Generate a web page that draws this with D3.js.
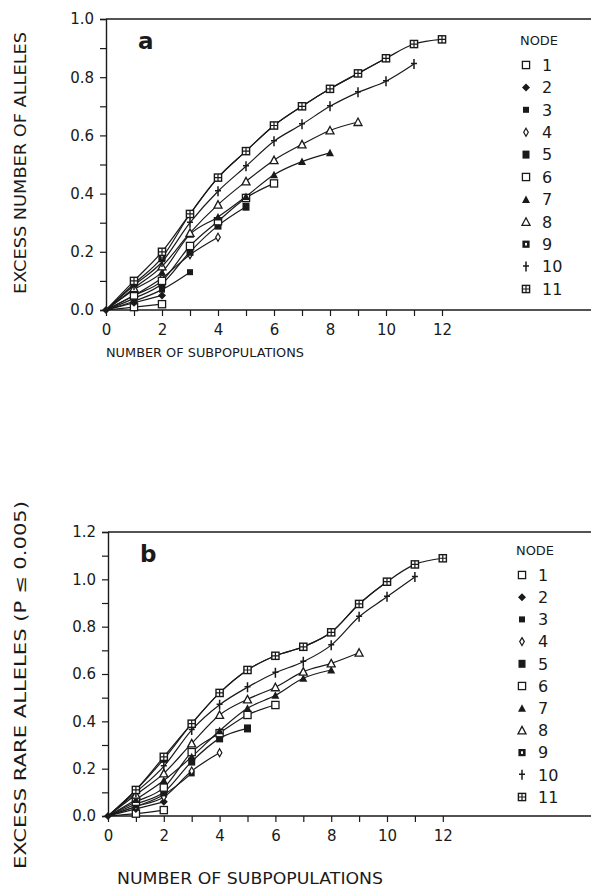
<!DOCTYPE html>
<html>
<head>
<meta charset="utf-8">
<script src="https://cdn.jsdelivr.net/npm/d3@7"></script>
<style>
  html, body { margin: 0; padding: 0; background: #fff; }
  svg { display: block; }
</style>
</head>
<body>
<div id="chart"></div>
<script>
// Noeuds de l'arbre et symbole utilisé pour chacun
const nodes = ["1", "2", "3", "4", "5", "6", "7", "8", "9", "10", "11"];
const markers = ["openSquare", "filledDiamond", "filledSquare", "smallDiamond", "bigSquare",
    "openSquare", "filledTriangle", "openTriangle", "dotSquare", "plus", "crossSquare"];

const xTicks = [0, 1, 2, 3, 4, 5, 6, 7, 8, 9, 10, 11, 12];

// a : excès du nombre d'allèles (x = 0, 1, 2 ... sous-populations)
const excessAlleles = [
    [0, 0.01, 0.02],
    [0, 0.025, 0.05],
    [0, 0.03, 0.07, 0.13],
    [0, 0.05, 0.11, 0.19, 0.25],
    [0, 0.04, 0.09, 0.20, 0.29, 0.355],
    [0, 0.05, 0.10, 0.22, 0.305, 0.385, 0.435],
    [0, 0.07, 0.13, 0.26, 0.32, 0.39, 0.465, 0.51, 0.54],
    [0, 0.075, 0.15, 0.265, 0.362, 0.442, 0.515, 0.569, 0.617, 0.646],
    [0, 0.09, 0.18, 0.33, 0.455, 0.546, 0.634, 0.70, 0.76, 0.813, 0.865],
    [0, 0.085, 0.165, 0.30, 0.408, 0.494, 0.58, 0.638, 0.70, 0.748, 0.786, 0.845],
    [0, 0.10, 0.20, 0.33, 0.455, 0.546, 0.634, 0.70, 0.76, 0.813, 0.865, 0.914, 0.93]
];

// b : excès d'allèles rares (P <= 0.005)
const rareAlleles = [
    [0, 0.01, 0.025],
    [0, 0.03, 0.06],
    [0, 0.04, 0.09, 0.18],
    [0, 0.04, 0.08, 0.19, 0.267],
    [0, 0.05, 0.10, 0.23, 0.328, 0.37],
    [0, 0.06, 0.12, 0.27, 0.35, 0.427, 0.469],
    [0, 0.07, 0.15, 0.25, 0.36, 0.455, 0.51, 0.582, 0.617],
    [0, 0.09, 0.18, 0.307, 0.427, 0.493, 0.544, 0.61, 0.645, 0.69],
    [0, 0.11, 0.24, 0.39, 0.52, 0.617, 0.677, 0.715, 0.776, 0.896, 0.99],
    [0, 0.10, 0.21, 0.363, 0.47, 0.544, 0.605, 0.652, 0.722, 0.842, 0.926, 1.01],
    [0, 0.11, 0.25, 0.39, 0.52, 0.617, 0.677, 0.715, 0.776, 0.896, 0.99, 1.063, 1.089]
];

const width = 591;
const height = 888;
const font = "'DejaVu Sans', 'Liberation Sans', sans-serif";
const ink = "#1a1a1a";

const svg = d3.select("#chart").append("svg")
    .attr("width", width)
    .attr("height", height)
    .attr("viewBox", [0, 0, width, height]);

function drawMarker(g, type, cx, cy) {
    const s = 3.6;
    const m = g.append("g").attr("transform", `translate(${cx},${cy})`);
    if (type === "openSquare") {
        m.append("rect").attr("x", -s).attr("y", -s).attr("width", 2 * s).attr("height", 2 * s)
            .attr("fill", "#fff").attr("stroke", ink).attr("stroke-width", 1.3);
    } else if (type === "filledSquare") {
        m.append("rect").attr("x", -3).attr("y", -3).attr("width", 6).attr("height", 6).attr("fill", ink);
    } else if (type === "bigSquare") {
        m.append("rect").attr("x", -3.5).attr("y", -4).attr("width", 7).attr("height", 8).attr("fill", ink);
    } else if (type === "filledDiamond") {
        m.append("path").attr("d", "M0,-4L4,0L0,4L-4,0Z").attr("fill", ink);
    } else if (type === "smallDiamond") {
        m.append("path").attr("d", "M0,-4L2.3,0L0,4L-2.3,0Z")
            .attr("fill", "#fff").attr("stroke", ink).attr("stroke-width", 1.2);
    } else if (type === "filledTriangle") {
        m.append("path").attr("d", "M0,-4L4,3.5L-4,3.5Z").attr("fill", ink);
    } else if (type === "openTriangle") {
        m.append("path").attr("d", "M0,-4L4,3.5L-4,3.5Z")
            .attr("fill", "#fff").attr("stroke", ink).attr("stroke-width", 1.3);
    } else if (type === "dotSquare") {
        m.append("rect").attr("x", -s).attr("y", -s).attr("width", 2 * s).attr("height", 2 * s).attr("fill", ink);
        m.append("rect").attr("x", -1).attr("y", -1.3).attr("width", 2).attr("height", 2.6).attr("fill", "#fff");
    } else if (type === "plus") {
        m.append("path").attr("d", "M0,-5V5M-3,-0.5H3")
            .attr("stroke", ink).attr("stroke-width", 1.5).attr("fill", "none");
    } else if (type === "crossSquare") {
        m.append("rect").attr("x", -s).attr("y", -s).attr("width", 2 * s).attr("height", 2 * s)
            .attr("fill", "#fff").attr("stroke", ink).attr("stroke-width", 1.4);
        m.append("path").attr("d", `M0,${-s}V${s}M${-s},0H${s}`)
            .attr("stroke", ink).attr("stroke-width", 1.2);
    }
}

function drawPanel(cfg) {
    const x = d3.scaleLinear().domain([0, 12]).range([cfg.left, cfg.left + cfg.unitX * 12]);
    const y = d3.scaleLinear().domain([0, cfg.yMax]).range([cfg.bottom, cfg.top]);
    const g = svg.append("g");

    // cadre : ligne du haut et axe du bas jusqu'au bord
    g.append("line").attr("x1", cfg.left).attr("x2", width)
        .attr("y1", cfg.top).attr("y2", cfg.top).attr("stroke", ink).attr("stroke-width", 1.4);
    g.append("line").attr("x1", cfg.left).attr("x2", width)
        .attr("y1", cfg.bottom).attr("y2", cfg.bottom).attr("stroke", ink).attr("stroke-width", 1.4);

    const yTicks = d3.range(0, Math.round(cfg.yMax * 10) + 1).map(d => d / 10);
    g.append("g")
        .attr("transform", `translate(${cfg.left},0)`)
        .call(d3.axisLeft(y).tickValues(yTicks).tickSize(6).tickPadding(6)
            .tickFormat(d => Math.round(d * 10) % 2 === 0 ? d3.format(".1f")(d) : ""))
        .call(g => g.select(".domain").attr("stroke", ink).attr("stroke-width", 1.4))
        .call(g => g.selectAll(".tick line").attr("stroke", ink).attr("stroke-width", 1.2))
        .call(g => g.selectAll(".tick text").attr("font-family", font).attr("font-size", 15)
            .attr("fill", ink));

    g.append("g")
        .attr("transform", `translate(0,${cfg.bottom})`)
        .call(d3.axisBottom(x).tickValues(xTicks).tickSize(6).tickPadding(8)
            .tickFormat(d => d % 2 === 0 ? d : ""))
        .call(g => g.select(".domain").remove())
        .call(g => g.selectAll(".tick line").attr("stroke", ink).attr("stroke-width", 1.2))
        .call(g => g.selectAll(".tick text").attr("font-family", font).attr("font-size", 15)
            .attr("fill", ink));

    const line = d3.line()
        .x((d, i) => x(i))
        .y(d => y(d))
        .curve(d3.curveMonotoneX);

    g.append("g").selectAll("path")
        .data(cfg.series)
        .join("path")
        .attr("fill", "none")
        .attr("stroke", ink)
        .attr("stroke-width", 1.2)
        .attr("d", d => line(d));

    const pts = g.append("g");
    cfg.series.forEach((values, k) => {
        values.forEach((v, i) => {
            if (i === 0) return;
            drawMarker(pts, markers[k], x(i), y(v));
        });
    });
    drawMarker(pts, "filledDiamond", x(0), y(0));

    // lettre du panneau
    g.append("text")
        .attr("x", cfg.left + 32)
        .attr("y", cfg.top + 30)
        .attr("font-family", font)
        .attr("font-weight", "bold")
        .attr("font-size", 23)
        .attr("fill", ink)
        .text(cfg.letter);

    // légende
    g.append("text")
        .attr("x", cfg.legendX - 3)
        .attr("y", cfg.legendY - 20)
        .attr("font-family", font)
        .attr("font-size", 13)
        .attr("textLength", 38)
        .attr("lengthAdjust", "spacingAndGlyphs")
        .attr("fill", ink)
        .text("NODE");

    nodes.forEach((n, k) => {
        const ly = cfg.legendY + k * cfg.legendStep;
        drawMarker(g, markers[k], cfg.legendX + 3, ly);
        g.append("text")
            .attr("x", cfg.legendX + 19)
            .attr("y", ly)
            .attr("dy", "0.36em")
            .attr("font-family", font)
            .attr("font-size", 16)
            .attr("fill", ink)
            .text(n);
    });

    g.append("text")
        .attr("x", cfg.xLabelX)
        .attr("y", cfg.xLabelY)
        .attr("font-family", font)
        .attr("font-size", cfg.xLabelSize)
        .attr("textLength", cfg.xLabelLen)
        .attr("lengthAdjust", "spacingAndGlyphs")
        .attr("fill", ink)
        .text("NUMBER OF SUBPOPULATIONS");

    g.append("text")
        .attr("transform", `translate(${cfg.yLabelX},${cfg.yLabelY}) rotate(-90)`)
        .attr("text-anchor", "middle")
        .attr("font-family", font)
        .attr("font-size", cfg.yLabelSize)
        .attr("textLength", cfg.yLabelLen)
        .attr("lengthAdjust", "spacingAndGlyphs")
        .attr("fill", ink)
        .text(cfg.yLabel);
}

drawPanel({
    series: excessAlleles, letter: "a", yMax: 1.0,
    left: 106, unitX: 28, top: 19, bottom: 310,
    legendX: 523, legendY: 65, legendStep: 22.4,
    xLabelX: 106, xLabelY: 357, xLabelSize: 13, xLabelLen: 198,
    yLabelX: 26, yLabelY: 163, yLabelSize: 16, yLabelLen: 262,
    yLabel: "EXCESS NUMBER OF ALLELES"
});

drawPanel({
    series: rareAlleles, letter: "b", yMax: 1.2,
    left: 108, unitX: 27.9, top: 532, bottom: 816,
    legendX: 519, legendY: 575, legendStep: 22.2,
    xLabelX: 117, xLabelY: 884, xLabelSize: 16, xLabelLen: 266,
    yLabelX: 26, yLabelY: 685, yLabelSize: 16, yLabelLen: 368,
    yLabel: "EXCESS RARE ALLELES  (P \u2264 0.005)"
});
</script>
</body>
</html>
